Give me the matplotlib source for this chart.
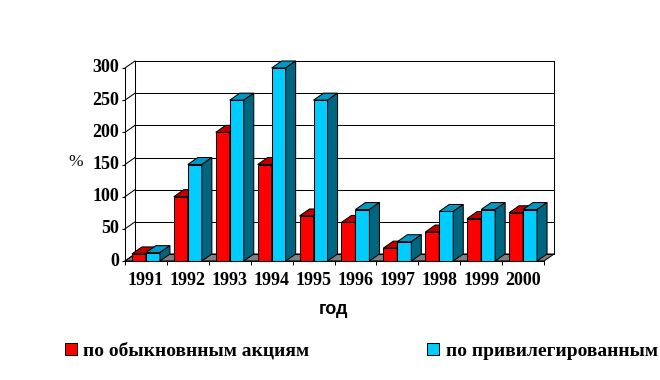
#!/usr/bin/env python3
# -*- coding: utf-8 -*-
import matplotlib
matplotlib.use("Agg")
import matplotlib.pyplot as plt
from matplotlib.patches import Polygon, Patch
from matplotlib.transforms import ScaledTranslation

# data
years = ["1991", "1992", "1993", "1994", "1995", "1996", "1997", "1998", "1999", "2000"]
ordinary = [11, 100, 200, 150, 70, 60, 20, 45, 66, 75]
preferred = [13, 150, 250, 300, 250, 80, 30, 77, 80, 80]
yticks = [0, 50, 100, 150, 200, 250, 300]
label_ordinary = "по обыкновнным акциям"
label_preferred = "по привилегированным"

W, H = 660, 380
left, right, bottom, top = 125, 544, 261, 68
serif = "Liberation Serif"
LW = 0.75

fig = plt.figure(figsize=(W / 100, H / 100), dpi=100)
ax = fig.add_axes([left / W, 1 - bottom / H, (right - left) / W, (bottom - top) / H])
ax.set_xlim(0, len(years))
ax.set_ylim(0, yticks[-1])

# depth of the fake 3d box, in data units
dx = 10 * len(years) / (right - left)
dy = 7 * yticks[-1] / (bottom - top)
bar_w = 14 * len(years) / (right - left)


def poly(points, color, z):
    ax.add_patch(Polygon(points, closed=True, facecolor=color, edgecolor="black",
                         linewidth=LW, clip_on=False, zorder=z))


def bar3d(x, value, face, top_col, side_col, z):
    poly([(x, 0), (x + bar_w, 0), (x + bar_w, value), (x, value)], face, z)
    poly([(x, value), (x + bar_w, value), (x + bar_w + dx, value + dy), (x + dx, value + dy)], top_col, z)
    poly([(x + bar_w, 0), (x + bar_w + dx, dy), (x + bar_w + dx, value + dy), (x + bar_w, value)], side_col, z)


n = len(years)
# floor and walls
poly([(0, 0), (n, 0), (n + dx, dy), (dx, dy)], "#808080", 1)
for v in yticks:
    ax.plot([dx, n + dx], [v + dy, v + dy], color="black", lw=LW, clip_on=False, zorder=1.5)
    ax.plot([0, dx], [v, v + dy], color="black", lw=LW, clip_on=False, zorder=1.5)
ax.plot([dx, dx], [dy, yticks[-1] + dy], color="black", lw=LW, clip_on=False, zorder=1.5)
ax.plot([n + dx, n + dx], [dy, yticks[-1] + dy], color="black", lw=LW, clip_on=False, zorder=1.5)

# bars, left to right so that the nearer sides overlap properly
for i in range(n):
    c = i + 0.5
    bar3d(c - bar_w, ordinary[i], "#FF0000", "#C00000", "#800000", 2 + i * 0.1)
    bar3d(c, preferred[i], "#00CCFF", "#0099C4", "#006680", 2.05 + i * 0.1)

ax.spines["top"].set_visible(False)
ax.spines["right"].set_visible(False)
ax.spines["left"].set_linewidth(LW)
ax.spines["bottom"].set_linewidth(LW)
ax.set_yticks(yticks)
ax.set_xticks([i + 0.5 for i in range(n)])
ax.set_xticklabels(years)
ax.set_xticks(range(n + 1), minor=True)
ax.tick_params(axis="x", which="major", length=0, pad=8)
ax.tick_params(axis="x", which="minor", length=3, width=LW)
ax.tick_params(axis="y", length=2, width=LW, pad=2)
for lab in ax.get_xticklabels() + ax.get_yticklabels():
    lab.set_family(serif)
    lab.set_fontweight("bold")
    lab.set_fontsize(13)
# value labels sit 2px above their gridline in the original
for lab in ax.get_yticklabels():
    lab.set_transform(lab.get_transform() + ScaledTranslation(0, 0.02, fig.dpi_scale_trans))

fig.text(76 / W, 1 - 162 / H, "%", family=serif, fontsize=12.5,
         ha="center", va="center", color="#101010")
fig.text(334 / W, 1 - 309 / H, "год", family="Liberation Sans", fontsize=13,
         fontweight="bold", ha="center", va="center")

handles = [Patch(facecolor="#FF0000", edgecolor="black", linewidth=LW, label=label_ordinary),
           Patch(facecolor="#00CCFF", edgecolor="black", linewidth=LW, label=label_preferred)]
fig.legend(handles=handles, ncol=2, loc="center left", bbox_to_anchor=(65 / W, 1 - 351 / H),
           frameon=False, handlelength=0.6, handleheight=0.6, handletextpad=0.35,
           columnspacing=6.05, borderpad=0, borderaxespad=0,
           prop={"family": serif, "weight": "bold", "size": 14})

fig.savefig("out.png", dpi=100)
